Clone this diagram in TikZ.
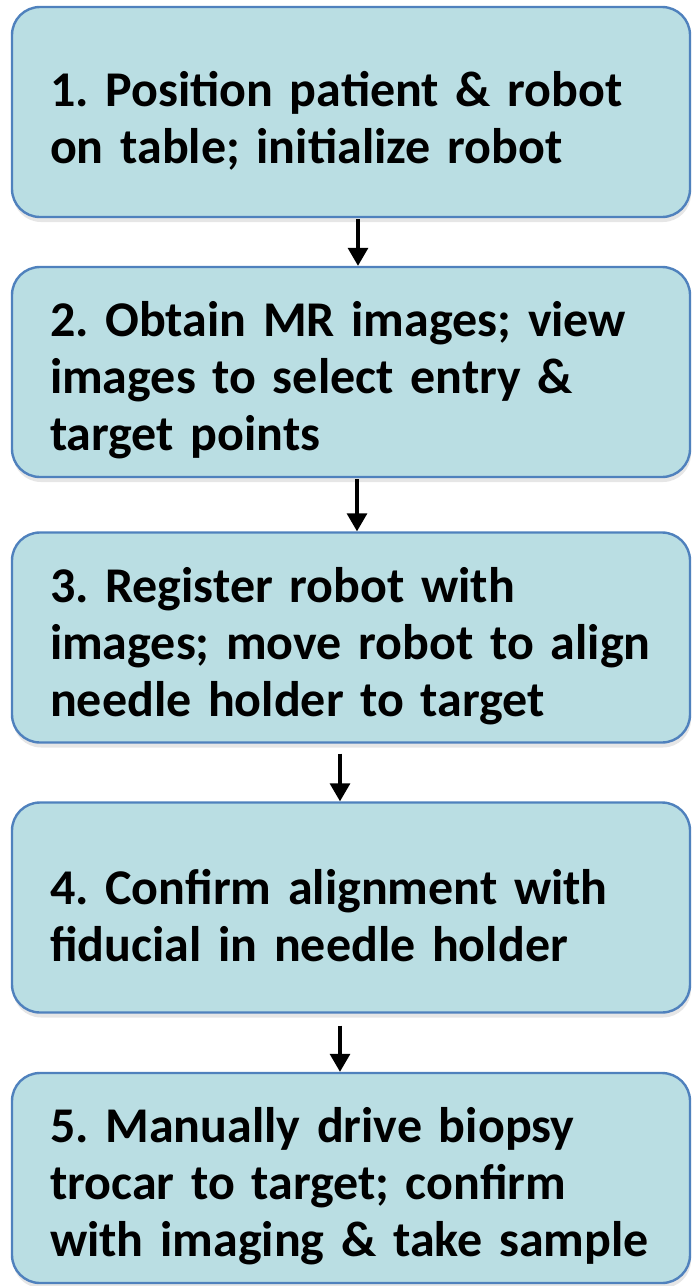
\documentclass[tikz,border=0pt]{standalone}
\usepackage{fontspec}
\setmainfont{Carlito}
\usetikzlibrary{arrows.meta,shadows}
\definecolor{boxfill}{RGB}{186,222,227}
\definecolor{boxline}{RGB}{79,129,189}
\frenchspacing
\tikzset{
  stepbox/.style={rectangle, rounded corners=14pt, draw=boxline, line width=1.2pt,
    fill=boxfill, minimum width=339pt, minimum height=105pt, text width=301pt,
    inner xsep=19pt, align=left,
    font=\bfseries\fontsize{25}{28.5}\selectfont,
    execute at begin node={\rule{0pt}{26pt}},
    drop shadow={opacity=0.2, shadow xshift=0.5pt, shadow yshift=-2.5pt}},
  flowarrow/.style={line width=1.6pt, -{Triangle[width=10pt,length=9pt]}}
}
\begin{document}
\begin{tikzpicture}[x=0.5pt,y=-0.5pt]
\useasboundingbox (0,0) rectangle (692,1286);
\node[stepbox] (b1) at (351,112) {1. Position patient \& robot\\on table; initialize robot};
\node[stepbox] (b2) at (351,372) {2. Obtain MR images; view\\images to select entry \&\\target points};
\node[stepbox] (b3) at (351,637.5) {3. Register robot with\\images; move robot to align\\needle holder to target};
\node[stepbox] (b4) at (351,907.5) {4. Confirm alignment with\\fiducial in needle holder};
\node[stepbox] (b5) at (351,1178) {5. Manually drive biopsy\\trocar to target; confirm\\with imaging \& take sample};
\draw[flowarrow] ([xshift=3.5pt,yshift=-0.5pt]b1.south) -- ([xshift=3.5pt]b2.north);
\draw[flowarrow] ([xshift=3pt,yshift=-0.5pt]b2.south) -- ([xshift=3pt]b3.north);
\draw[flowarrow] ([xshift=-5.5pt,yshift=-5pt]b3.south) -- ([xshift=-5.5pt]b4.north);
\draw[flowarrow] ([xshift=-5.5pt,yshift=-6pt]b4.south) -- ([xshift=-5.5pt]b5.north);
\end{tikzpicture}
\end{document}
